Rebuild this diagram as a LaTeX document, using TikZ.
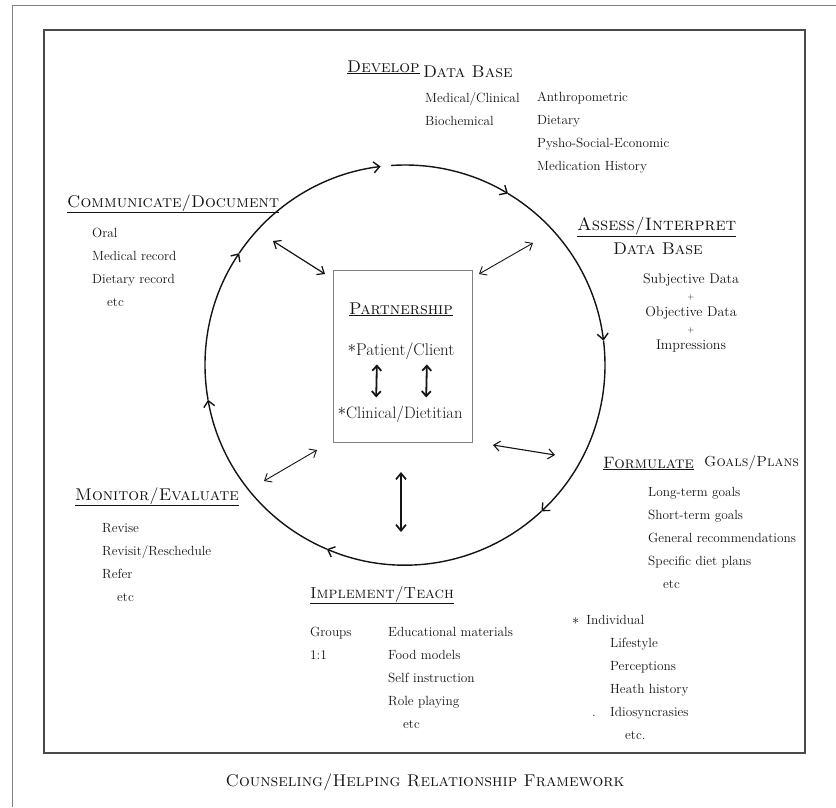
\documentclass[tikz,border=0pt]{standalone}
\usepackage{tikz}
\usetikzlibrary{arrows.meta,positioning,calc}
\definecolor{ink}{HTML}{141414}
\definecolor{rule}{HTML}{808080}
\definecolor{frame}{HTML}{4A4A4A}
\tikzset{
  stage/.style={font=\fontsize{17}{20}\selectfont\scshape,inner sep=0pt,text=ink},
  items/.style={font=\fontsize{13.3}{23}\selectfont,align=left,inner sep=0pt,text=ink},
  loop/.style={line width=1.4pt,draw=ink,-{Straight Barb[length=6pt,width=11pt]}},
  duo/.style={line width=0.9pt,draw=ink,{Straight Barb[length=6pt,width=10pt]}-{Straight Barb[length=6pt,width=10pt]}},
  pair/.style={line width=1.8pt,draw=ink,{Straight Barb[length=5pt,width=9pt]}-{Straight Barb[length=5pt,width=9pt]}}
}

\begin{document}
\begin{tikzpicture}[x=1pt,y=1pt]
 \useasboundingbox (0,0) rectangle (836,-807);
 % page edge and frame
 \draw[rule,line width=0.7pt] (12,-807) |- (836,-5);
 \draw[frame,line width=1.5pt] (44,-30) rectangle (805,-753);

 % the cycle
 \coordinate (hub) at (405,-365);
 \path (hub) ++(146:200) coordinate (a1) (hub) ++(94:200) coordinate (a2) (hub) ++(59:200) coordinate (a3)
  (hub) ++(7:200) coordinate (a4) (hub) ++(-47:200) coordinate (a5) (hub) ++(-113:200) coordinate (a6)
  (hub) ++(190:200) coordinate (a7);
 \draw[loop] (a1) arc[start angle=146,end angle=97,radius=200]; \draw[loop] (a2) arc[start angle=94,end angle=59,radius=200];
 \draw[loop] (a3) arc[start angle=59,end angle=7,radius=200]; \draw[loop] (a4) arc[start angle=7,end angle=-47,radius=200];
 \draw[loop] (a5) arc[start angle=-47,end angle=-113,radius=200]; \draw[loop] (a6) arc[start angle=-113,end angle=-170,radius=200];
 \draw[loop] (a7) arc[start angle=190,end angle=146,radius=200];

 % stages
 \node[stage,anchor=base west] (develop) at (347,-72) {\underline{Develop}};
 \node[stage,anchor=base west,right=3pt of develop.base east] (devdb) {Data Base};
 \node[items,anchor=north west] (clinical) at (425,-92) {Medical/Clinical\\Biochemical};
 \node[items,anchor=north west] (history) at (537,-92) {Anthropometric\\Dietary\\Pysho-Social-Economic\\Medication History};

 \node[stage,anchor=base west,font=\fontsize{18}{20}\selectfont\scshape] (assess) at (577,-230) {\underline{Assess/Interpret}};
 \node[stage,anchor=base west] (assessdb) at (613,-254) {Data Base};
 \node[items,align=center,anchor=north,font=\fontsize{14}{16.5}\selectfont] (findings) at (691,-273)
  {Subjective Data\\{\footnotesize +}\\Objective Data\\{\footnotesize +}\\Impressions};

 \node[stage,anchor=base west,font=\fontsize{16.5}{20}\selectfont\scshape] (formulate) at (603,-468) {\underline{Formulate}};
 \node[stage,anchor=base west,font=\fontsize{14.5}{18}\selectfont\scshape] (goals) at (704,-466) {Goals/Plans};
 \node[items,anchor=north west] (plans) at (648,-487)
  {Long-term goals\\Short-term goals\\General recommendations\\Specific diet plans\\\hspace{15pt}etc};
 \node[items,anchor=base west] (individual) at (572,-624) {$\ast$\hspace{7pt}Individual};
 \node[items,anchor=north west] (traits) at (610,-638) {Lifestyle\\Perceptions\\Heath history\\Idiosyncrasies\\\hspace{15pt}etc.};
 \node[items,anchor=base] (stray) at (594,-716) {.};

 \node[stage,anchor=base west,font=\fontsize{16}{18}\selectfont\scshape] (implement) at (310,-598) {\underline{Implement/Teach}};
 \node[items,anchor=north west] (formats) at (310,-627) {Groups\\1:1};
 \node[items,anchor=north west] (tools) at (388,-627) {Educational materials\\Food models\\Self instruction\\Role playing\\\hspace{15pt}etc};

 \node[stage,anchor=base west] (monitor) at (75,-500) {\underline{Monitor/Evaluate}};
 \node[items,anchor=north west] (followup) at (102,-523) {Revise\\Revisit/Reschedule\\Refer\\\hspace{15pt}etc};

 \node[stage,anchor=base west] (communicate) at (67,-207) {\underline{Communicate/Document}};
 \node[items,anchor=north west] (records) at (92,-228) {Oral\\Medical record\\Dietary record\\\hspace{15pt}etc};

 % partnership
 \node[draw=rule,line width=0.7pt,minimum width=139,minimum height=172,inner sep=0pt] (partner) at (402.5,-356) {};
 \node[stage,anchor=base] (ptitle) at (401,-314) {\underline{Partnership}};
 \node[items,font=\fontsize{17}{20}\selectfont,anchor=base] (patient) at (401,-355) {\raisebox{3pt}{$\ast$}Patient/Client};
 \node[items,font=\fontsize{16.5}{20}\selectfont,anchor=base] (dietitian) at (400,-418) {\raisebox{3pt}{$\ast$}Clinical/Dietitian};
 \draw[pair,shorten <=5pt,shorten >=8pt] ([xshift=-24pt]patient.south) -- ([xshift=-24pt]dietitian.north);
 \draw[pair,shorten <=5pt,shorten >=8pt] ([xshift=26pt]patient.south) -- ([xshift=26pt]dietitian.north);

 % links between the cycle and the partnership
 \coordinate (ulo) at (273,-241); \coordinate (uli) at (325,-274);
 \coordinate (uro) at (533,-243); \coordinate (uri) at (479,-274);
 \coordinate (rti) at (493,-445); \coordinate (rto) at (555,-455);
 \coordinate (lli) at (317,-450); \coordinate (llo) at (264,-481);
 \coordinate (bti) at (401,-472); \coordinate (bto) at (401,-532);
 \draw[duo,line width=1.2pt] (ulo) -- (uli); \draw[duo] (uro) -- (uri); \draw[duo,line width=1.1pt] (rti) -- (rto);
 \draw[duo] (lli) -- (llo); \draw[duo,line width=1.7pt] (bti) -- (bto);

 \node[stage,anchor=base] (caption) at (425,-786) {Counseling/Helping Relationship Framework};
\end{tikzpicture}
\end{document}
